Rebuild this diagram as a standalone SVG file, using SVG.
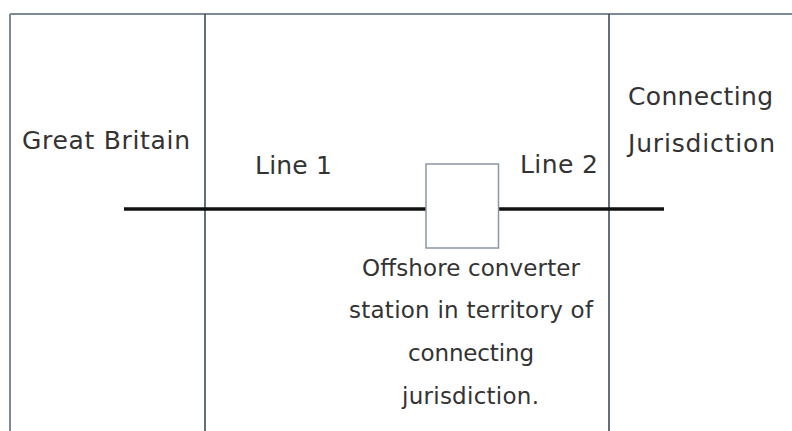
<svg xmlns="http://www.w3.org/2000/svg" width="792" height="431" viewBox="0 0 792 431">
<style>
.t{font-family:"DejaVu Sans","Verdana",sans-serif;font-size:25px;fill:#333}
.s{font-family:"DejaVu Sans","Verdana",sans-serif;font-size:23px;fill:#333}
.b{stroke:#7d8898;stroke-width:2;fill:none}
.v{stroke:#3d4a5c;stroke-width:1.6;fill:none}
</style>
<rect width="792" height="431" fill="#fff"/>
<g id="frame">
<line class="b" x1="10" y1="14" x2="792" y2="14"/>
<line class="b" x1="10" y1="14" x2="10" y2="431"/>
<line class="v" x1="205" y1="14" x2="205" y2="431"/>
<line class="v" x1="609" y1="14" x2="609" y2="431"/>
</g>
<g id="connectors">
<line x1="124" y1="209" x2="426" y2="209" stroke="#111" stroke-width="3.5"/>
<line x1="499" y1="209" x2="664" y2="209" stroke="#111" stroke-width="3.5"/>
</g>
<g id="gb"><text class="t" x="22" y="149" textLength="168">Great Britain</text></g>
<g id="cj"><text class="t" x="628" y="105" textLength="145">Connecting</text><text class="t" x="628" y="152" textLength="147">Jurisdiction</text></g>
<g id="line1"><text class="t" x="255" y="174" textLength="77">Line 1</text></g>
<g id="line2"><text class="t" x="520" y="173" textLength="78">Line 2</text></g>
<g id="station">
<rect x="426" y="164" width="72.5" height="84" fill="#fff" stroke="#8a96a6" stroke-width="1.5"/>
<text class="s" x="362" y="276" textLength="218">Offshore converter</text>
<text class="s" x="349" y="318" textLength="244">station in territory of</text>
<text class="s" x="408" y="361" textLength="126">connecting</text>
<text class="s" x="402" y="404" textLength="137">jurisdiction.</text>
</g>
</svg>
